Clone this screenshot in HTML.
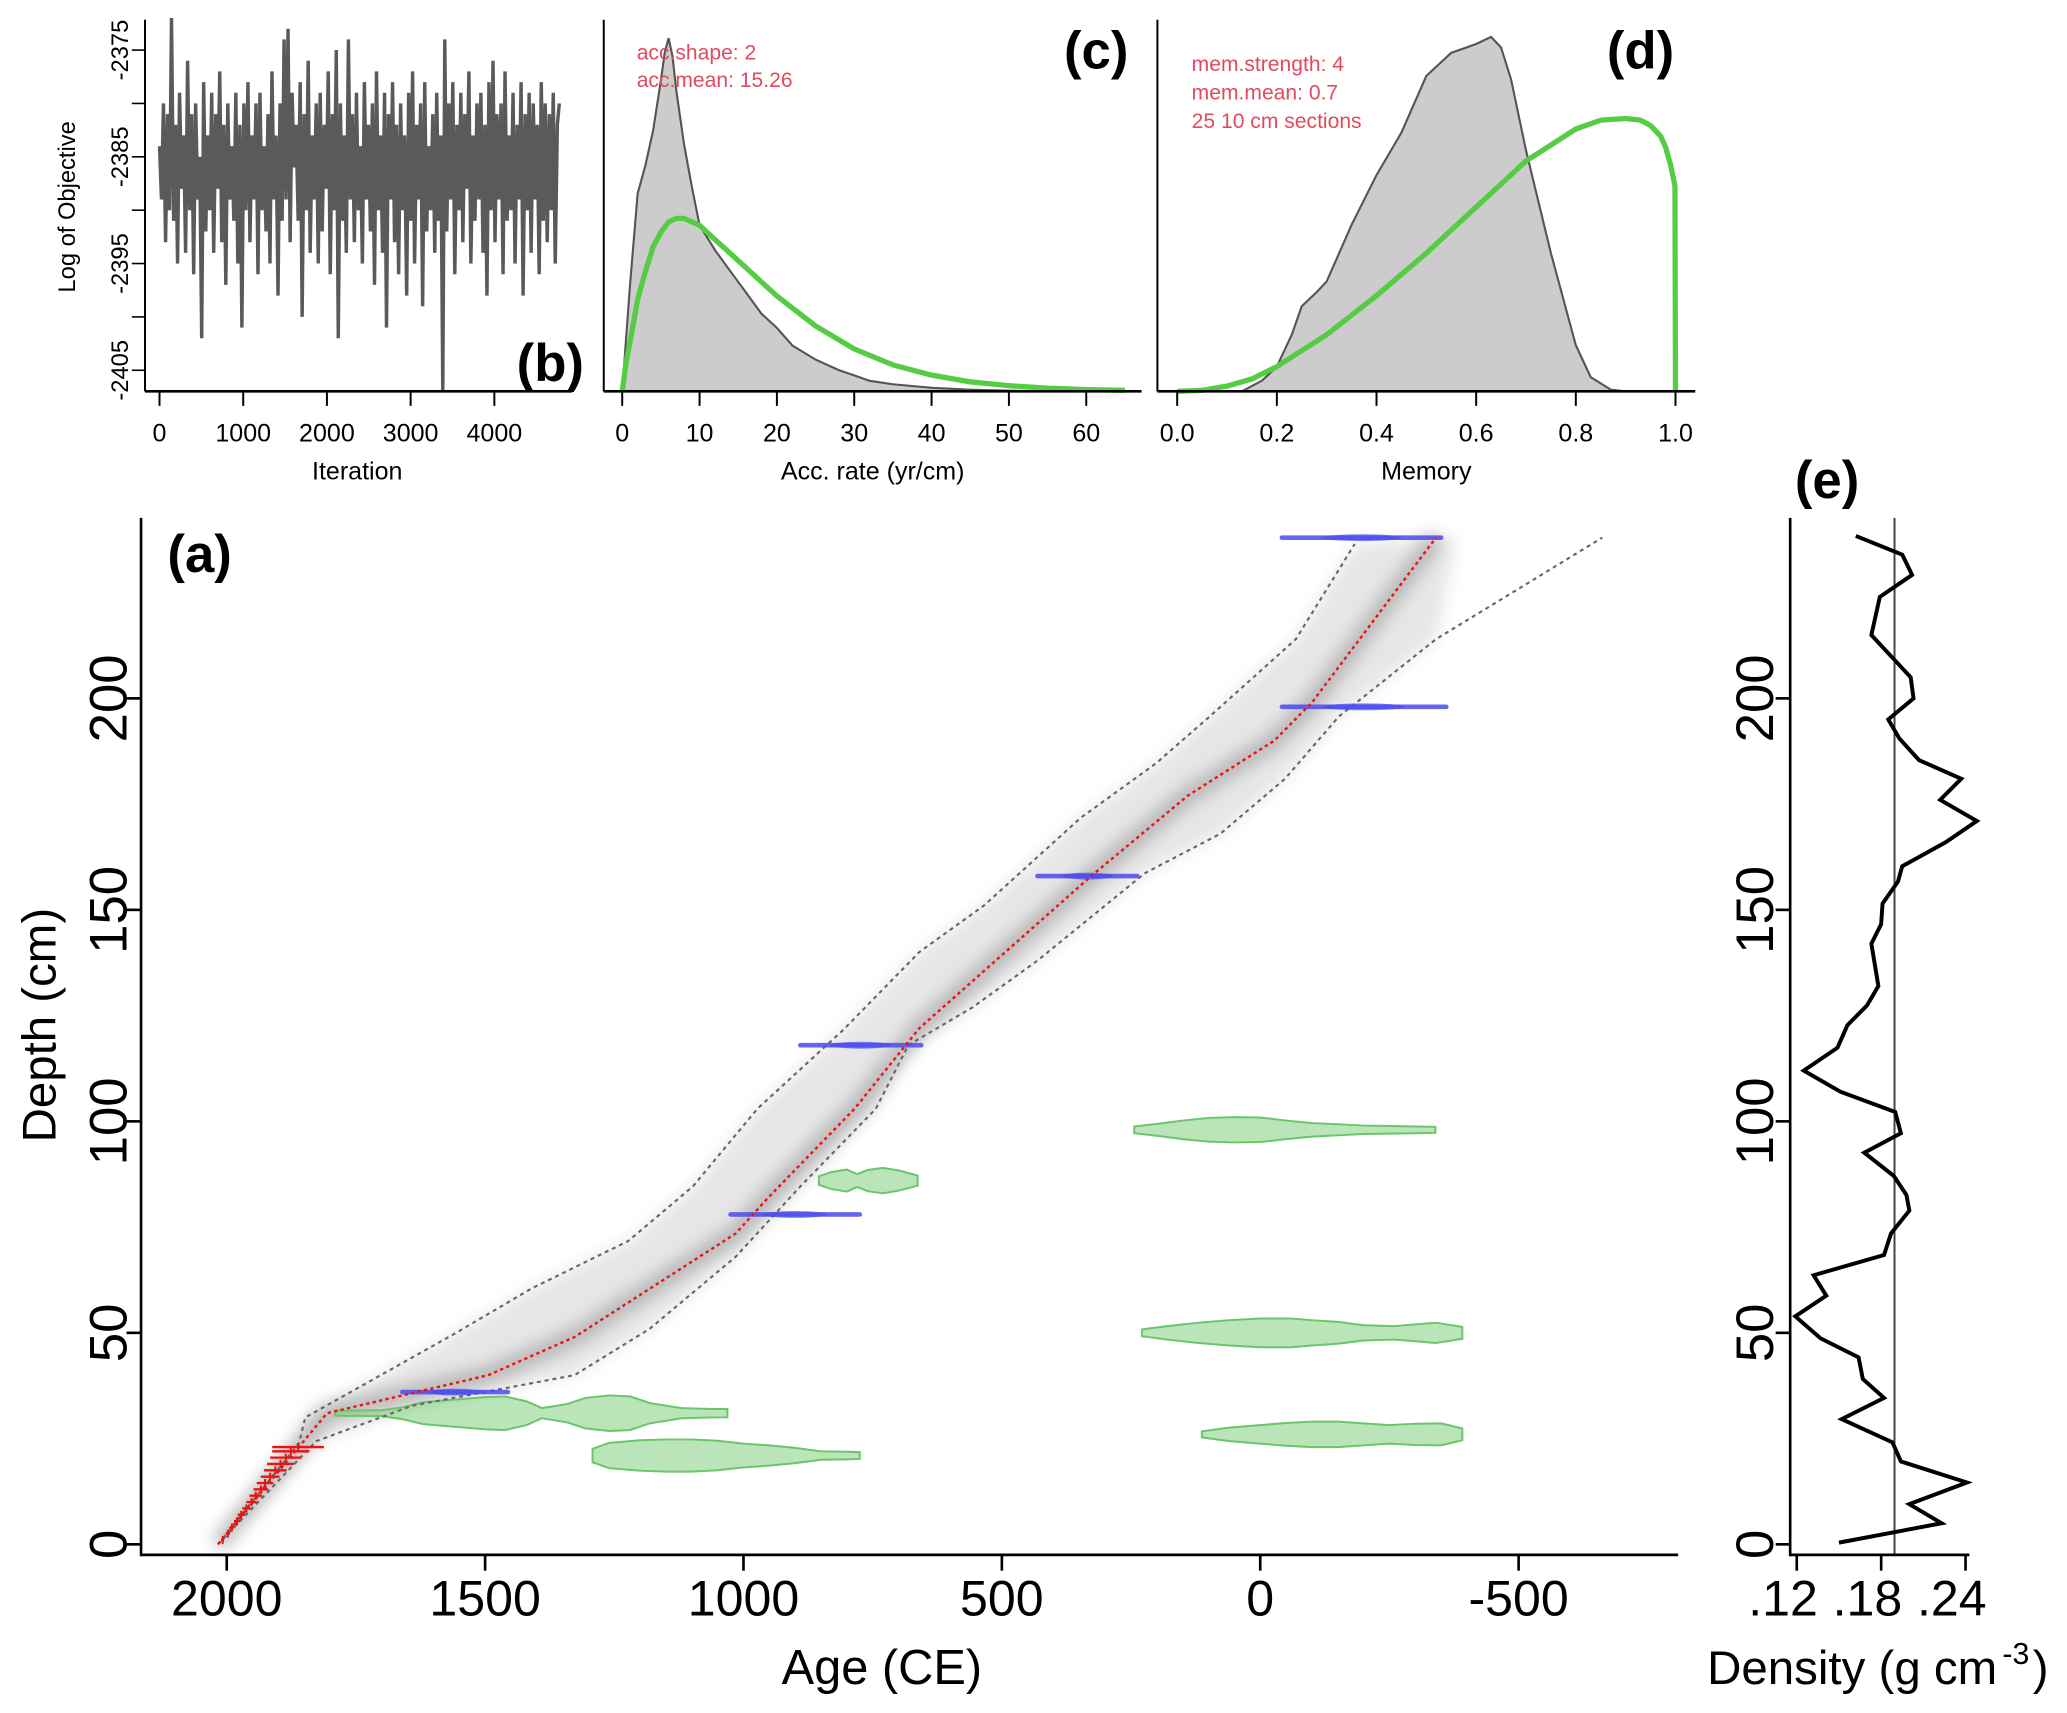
<!DOCTYPE html>
<html><head><meta charset="utf-8"><style>
html,body{margin:0;padding:0;background:#fff}
svg{display:block;font-family:"Liberation Sans",Arial,sans-serif}
</style></head><body>
<svg id="fig" xmlns="http://www.w3.org/2000/svg" width="2067" height="1713" viewBox="0 0 1568 1300" preserveAspectRatio="none">
<defs>
<filter id="blur6" x="-20%" y="-20%" width="140%" height="140%"><feGaussianBlur stdDeviation="6"/></filter>
<filter id="blur3" x="-20%" y="-20%" width="140%" height="140%"><feGaussianBlur stdDeviation="3"/></filter>
</defs>
<g id="gB"></g>
<g id="gC"></g>
<g id="gD"></g>
<g id="gA"></g>
<g id="gE"></g>
</svg>
<script>
// ---------- Panel b data ----------
const iterStep = 24;
const logObj = [
-2384,-2389,-2380,-2393,-2381,-2390,-2372,-2391,-2382,-2395,-2379,-2388,-2383,-2394,-2376,-2390,-2381,-2396,-2380,-2389,
-2385,-2402,-2378,-2392,-2383,-2390,-2379,-2394,-2381,-2388,-2377,-2393,-2382,-2397,-2380,-2389,-2384,-2391,-2379,-2395,
-2382,-2401,-2380,-2390,-2378,-2393,-2383,-2389,-2380,-2396,-2379,-2390,-2384,-2392,-2381,-2395,-2377,-2389,-2383,-2398,
-2380,-2391,-2374,-2389,-2373,-2393,-2379,-2386,-2382,-2391,-2378,-2400,-2381,-2390,-2376,-2394,-2383,-2389,-2380,-2395,
-2379,-2392,-2382,-2388,-2377,-2396,-2381,-2390,-2375,-2402,-2380,-2391,-2383,-2394,-2374,-2389,-2381,-2393,-2379,-2390,
-2384,-2395,-2378,-2389,-2382,-2392,-2380,-2397,-2377,-2390,-2383,-2394,-2379,-2401,-2381,-2389,-2378,-2393,-2382,-2396,
-2380,-2390,-2383,-2398,-2379,-2391,-2377,-2395,-2382,-2389,-2380,-2399,-2378,-2392,-2384,-2390,-2381,-2394,-2379,-2391,
-2383,-2407,-2374,-2392,-2380,-2389,-2378,-2396,-2382,-2390,-2379,-2393,-2381,-2388,-2377,-2395,-2383,-2391,-2380,-2389,
-2379,-2394,-2382,-2398,-2378,-2390,-2376,-2393,-2381,-2389,-2380,-2396,-2377,-2391,-2383,-2390,-2379,-2395,-2382,-2389,
-2378,-2398,-2381,-2390,-2379,-2394,-2380,-2389,-2382,-2396,-2378,-2391,-2380,-2393,-2381,-2390,-2379,-2395,-2382,-2380];
const bXTicks = [0,1000,2000,3000,4000];
const bYTicks = [-2375,-2380,-2385,-2390,-2395,-2400,-2405];
const bYLabels = [-2375,-2385,-2395,-2405];
// ---------- Panel c data ----------
const accX = [0,1,2,3,4,5,5.5,6,6.5,7,8,9,10,12,14,16,18,20,22,25,28,30,32,35,40,45,50,55];
const accPost = [0,0.3,0.56,0.64,0.74,0.88,0.96,1.0,0.95,0.85,0.7,0.58,0.47,0.4,0.34,0.28,0.22,0.18,0.13,0.09,0.06,0.045,0.03,0.02,0.01,0.005,0.002,0];
const accPriorX = [0,0.5,1,2,3,4,5,6,7,8,9,10,12,15,20,25,30,35,40,45,50,55,60,65];
const accPrior = [0,0.08,0.14,0.26,0.34,0.41,0.45,0.48,0.49,0.49,0.48,0.47,0.43,0.37,0.27,0.185,0.12,0.075,0.046,0.027,0.016,0.009,0.005,0.003];
const cXTicks = [0,10,20,30,40,50,60];
// ---------- Panel d data ----------
const memX = [0,0.13,0.17,0.2,0.23,0.25,0.28,0.3,0.35,0.4,0.45,0.5,0.55,0.6,0.63,0.65,0.67,0.7,0.75,0.8,0.83,0.87,0.9,1.0];
const memPost = [0,0,0.03,0.07,0.16,0.24,0.28,0.31,0.47,0.61,0.73,0.89,0.955,0.98,1.0,0.97,0.88,0.68,0.39,0.13,0.04,0.005,0,0];
const memPriorX = [0,0.05,0.1,0.15,0.2,0.3,0.4,0.5,0.6,0.7,0.8,0.85,0.9,0.93,0.95,0.97,0.98,0.99,0.999,1.0];
const memPrior = [0,0.003,0.015,0.035,0.07,0.16,0.27,0.39,0.52,0.65,0.74,0.765,0.77,0.765,0.75,0.72,0.69,0.64,0.58,0];
const dXTicks = [0,0.2,0.4,0.6,0.8,1.0];
// ---------- Panel a data ----------
const meanDepth = [0,31,40,49,73.5,82,103,122,158,177,190,199,238];
const meanAge = [2017,1806,1494,1327,1015,952,785,660,327,140,-27,-100,-340];
const loDepth = [0,24,30,40,50,60.5,71.7,84.6,103,121.7,140,151,171.7,184.6,195.7,214,236.5];
const loAge = [2017,1860,1848,1702,1556,1410,1223,1098,973,806,660,535,348,202,98,-69,-183];
const hiDepth = [0,24.4,32.8,40,51,68,84.6,103,118,127,138,158.7,168,181,195.7,214,238];
const hiAge = [2017,1827,1640,1327,1181,1015,890,744,681,556,431,223,77,-48,-152,-340,-662];
const dateDepth = [36,78,118,158,198,238];
const dateOld = [1660,1025,890,431,-42,-42];
const dateYoung = [1456,775,656,238,-360,-350];
const leadDepth = [1,2.5,4,5.5,7,8.5,10,11.5,13,14.5,16,17.5,19,20.5,22,23];
const leadAge = [2008,1998,1990,1980,1972,1962,1952,1944,1934,1926,1916,1906,1896,1886,1876,1862];
const leadErr = [3,4,5,6,7,8,10,12,14,16,18,22,26,30,36,50];
const calDepth = [98,86,50,31,26,21];
const calAges = [
 [244,200,150,100,50,0,-50,-100,-150,-200,-250,-300,-339],
 [854,830,800,780,760,730,700,663],
 [229,180,120,60,0,-60,-100,-150,-200,-260,-300,-340,-391],
 [1790,1700,1660,1620,1560,1500,1462,1420,1390,1370,1340,1306,1260,1220,1181,1120,1060,1031],
 [113,60,0,-50,-100,-150,-200,-250,-300,-350,-391],
 [1292,1260,1200,1150,1100,1050,1000,950,900,850,800,775]];
const calHalf = [
 [0.8,1.4,2.2,2.8,3.0,2.9,2.2,1.6,1.3,1.0,0.9,0.8,0.7],
 [1.0,2.0,2.6,1.5,2.5,3.0,2.4,1.2],
 [0.8,1.6,2.4,3.0,3.4,3.4,3.0,2.6,1.8,1.6,2.0,2.4,1.4],
 [0.6,0.7,1.4,2.6,3.2,3.8,4.0,2.8,1.2,1.6,2.2,3.6,4.2,4.0,2.4,1.2,1.0,1.0],
 [0.7,1.6,2.2,2.7,3.0,3.0,2.6,2.2,2.5,2.6,1.4],
 [1.6,3.0,3.6,3.8,3.8,3.5,2.8,2.4,1.8,1.0,0.9,0.8]];
const aXTicks = [2000,1500,1000,500,0,-500];
const aXLabels = ["2000","1500","1000","500","0","-500"];
const aYTicks = [0,50,100,150,200];
// ---------- Panel e data ----------
const densDepth = [0.4,5,9.5,14.6,19.6,24.1,29.6,34.6,39.1,44.2,48.7,53.9,58.8,63.6,68.4,73.5,78.9,82.6,87.1,92.6,97.2,102.2,107,112,117.4,122.7,127.4,132,142,146.6,151.5,156.7,160.3,166,171,176,181,185.4,190.5,195,200,205,215,224,229.2,234,238.4];
const densVal = [.150,.223,.200,.241,.194,.188,.152,.182,.167,.164,.137,.119,.141,.132,.182,.187,.200,.198,.189,.168,.194,.190,.151,.125,.149,.156,.170,.178,.173,.180,.181,.192,.195,.226,.248,.222,.237,.207,.193,.185,.203,.201,.173,.179,.202,.195,.162];
const densMean = 0.1895;
const eXTicks = [0.12,0.18,0.24];
const eXLabels = [".12",".18",".24"];

const NS="http://www.w3.org/2000/svg";
function mk(parent,tag,attrs,text){const e=document.createElementNS(NS,tag);for(const k in attrs)e.setAttribute(k,attrs[k]);if(text!==undefined)e.textContent=text;parent.appendChild(e);return e;}
function pts(xs,ys,fx,fy){return xs.map((x,i)=>fx(x).toFixed(1)+","+fy(ys[i]).toFixed(1)).join(" ");}

// ===== Panel b =====
const gB=document.getElementById('gB');
const bX=v=>121+v*0.0635, bY=v=>38+(-2375-v)*8.1;
let el;
el=mk(gB,'polyline',{points:logObj.map((v,i)=>bX(i*iterStep).toFixed(1)+","+bY(v).toFixed(1)).join(" "),fill:'none',stroke:'#5a5a5a','stroke-width':2.6,'stroke-linejoin':'bevel'});


el=mk(gB,'line',{x1:110,y1:297,x2:434,y2:297,stroke:'#000','stroke-width':2});


el=mk(gB,'line',{x1:110,y1:15,x2:110,y2:297,stroke:'#000','stroke-width':1.5});


bXTicks.forEach(t=>{mk(gB,'line',{x1:bX(t),y1:297,x2:bX(t),y2:308,stroke:'#000','stroke-width':1.5});
 el=mk(gB,'text',{x:bX(t),y:335,'font-size':19,'text-anchor':'middle'},String(t));
 
 });
bYTicks.forEach(t=>{mk(gB,'line',{x1:100,y1:bY(t),x2:110,y2:bY(t),stroke:'#000','stroke-width':1.2});});
bYLabels.forEach(t=>{el=mk(gB,'text',{x:0,y:0,'font-size':18,'text-anchor':'middle',transform:`translate(97,${bY(t)}) rotate(-90)`},String(t));
 
 });
el=mk(gB,'text',{x:0,y:0,'font-size':18,'text-anchor':'middle',transform:'translate(57,157) rotate(-90)'},'Log of Objective');


el=mk(gB,'text',{x:271,y:364,'font-size':19,'text-anchor':'middle'},'Iteration');


el=mk(gB,'text',{x:443,y:289,'font-size':40,'font-weight':'bold','text-anchor':'end'},'(b)');



// ===== Panel c =====
const gC=document.getElementById('gC');
const cX=v=>472+v*5.867, cY=v=>297-v*268;
el=mk(gC,'polygon',{points:pts(accX,accPost,cX,cY),fill:'#cccccc',stroke:'#555','stroke-width':1.6});


el=mk(gC,'polyline',{points:pts(accPriorX,accPrior,cX,cY),fill:'none',stroke:'#55cc44','stroke-width':4,'stroke-linejoin':'round'});


mk(gC,'line',{x1:458,y1:297,x2:866,y2:297,stroke:'#000','stroke-width':2});
mk(gC,'line',{x1:458,y1:15,x2:458,y2:297,stroke:'#000','stroke-width':1.5});
cXTicks.forEach(t=>{mk(gC,'line',{x1:cX(t),y1:297,x2:cX(t),y2:308,stroke:'#000','stroke-width':1.5});
 el=mk(gC,'text',{x:cX(t),y:335,'font-size':19,'text-anchor':'middle'},String(t));
 
 });
el=mk(gC,'text',{x:662,y:364,'font-size':19,'text-anchor':'middle'},'Acc. rate (yr/cm)');


el=mk(gC,'text',{x:483,y:45,'font-size':16,fill:'#e04a5c'},'acc.shape:  2');


el=mk(gC,'text',{x:483,y:66,'font-size':16,fill:'#e04a5c'},'acc.mean:  15.26');


el=mk(gC,'text',{x:856,y:52,'font-size':40,'font-weight':'bold','text-anchor':'end'},'(c)');



// ===== Panel d =====
const gD=document.getElementById('gD');
const dX=v=>893+v*378, dY=v=>297-v*269;
el=mk(gD,'polygon',{points:pts(memX,memPost,dX,dY),fill:'#cccccc',stroke:'#555','stroke-width':1.6});


el=mk(gD,'polyline',{points:pts(memPriorX,memPrior,dX,dY),fill:'none',stroke:'#55cc44','stroke-width':4,'stroke-linejoin':'round'});


mk(gD,'line',{x1:878,y1:297,x2:1286,y2:297,stroke:'#000','stroke-width':2});
mk(gD,'line',{x1:878,y1:15,x2:878,y2:297,stroke:'#000','stroke-width':1.5});
dXTicks.forEach(t=>{mk(gD,'line',{x1:dX(t),y1:297,x2:dX(t),y2:308,stroke:'#000','stroke-width':1.5});
 el=mk(gD,'text',{x:dX(t),y:335,'font-size':19,'text-anchor':'middle'},t.toFixed(1));
 
 });
el=mk(gD,'text',{x:1082,y:364,'font-size':19,'text-anchor':'middle'},'Memory');


['mem.strength: 4','mem.mean: 0.7','25 10 cm sections'].forEach((s,i)=>{
 el=mk(gD,'text',{x:904,y:54+i*21.5,'font-size':16,fill:'#e04a5c'},s);
 
 });
el=mk(gD,'text',{x:1270,y:52,'font-size':40,'font-weight':'bold','text-anchor':'end'},'(d)');



// ===== Panel a =====
const gA=document.getElementById('gA');
const aX=a=>172+(2000-a)*0.392, aY=d=>1172-d*3.21;
const bandPts = loAge.map((a,i)=>aX(a).toFixed(1)+","+aY(loDepth[i]).toFixed(1)).concat(
  hiAge.slice().reverse().map((a,j)=>{const i=hiAge.length-1-j;const aa=Math.max(a,-380);return aX(aa).toFixed(1)+","+aY(hiDepth[i]).toFixed(1);}));
el=mk(gA,'polygon',{points:bandPts.join(" "),fill:'#e6e6e6',filter:'url(#blur6)'});


el=mk(gA,'polyline',{points:pts(meanAge,meanDepth,aX,aY),fill:'none',stroke:'#9a9a9a','stroke-width':12,opacity:0.7,filter:'url(#blur6)'});


calDepth.forEach((d,k)=>{
 const top=calAges[k].map((a,i)=>aX(a).toFixed(1)+","+aY(d+calHalf[k][i]).toFixed(1));
 const bot=calAges[k].map((a,i)=>aX(a).toFixed(1)+","+aY(d-calHalf[k][i]).toFixed(1)).reverse();
 el=mk(gA,'polygon',{points:top.concat(bot).join(" "),fill:'#7fcf7f','fill-opacity':0.55,stroke:'#6cc46c','stroke-width':1.5});
 
 
});
el=mk(gA,'polyline',{points:pts(loAge,loDepth,aX,aY),fill:'none',stroke:'#666','stroke-width':1.6,'stroke-dasharray':'3,3'});


el=mk(gA,'polyline',{points:pts(hiAge,hiDepth,aX,aY),fill:'none',stroke:'#666','stroke-width':1.6,'stroke-dasharray':'3,3'});


dateDepth.forEach((d,i)=>{
 el=mk(gA,'line',{x1:aX(dateOld[i]),y1:aY(d),x2:aX(dateYoung[i]),y2:aY(d),stroke:'#4b4bf0','stroke-width':3.5,'stroke-linecap':'round',opacity:0.85});
 
 
 const mid=(dateOld[i]+dateYoung[i])/2, w=Math.abs(aX(dateOld[i])-aX(dateYoung[i]));
 mk(gA,'ellipse',{cx:aX(mid),cy:aY(d),rx:w*0.25,ry:2.6,fill:'#4b4bf0',opacity:0.7});
});
leadDepth.forEach((d,i)=>{
 el=mk(gA,'line',{x1:aX(leadAge[i]+leadErr[i]),y1:aY(d),x2:aX(leadAge[i]-leadErr[i]),y2:aY(d),stroke:'#ee1111','stroke-width':1.8});
 
 
 mk(gA,'line',{x1:aX(leadAge[i]),y1:aY(d)-3,x2:aX(leadAge[i]),y2:aY(d)+3,stroke:'#ee1111','stroke-width':1.5});
});
el=mk(gA,'polyline',{points:pts(meanAge,meanDepth,aX,aY),fill:'none',stroke:'#ee1111','stroke-width':1.8,'stroke-dasharray':'2.5,2.5'});


el=mk(gA,'line',{x1:107,y1:393,x2:107,y2:1181,stroke:'#000','stroke-width':2});


el=mk(gA,'line',{x1:107,y1:1180,x2:1273,y2:1180,stroke:'#000','stroke-width':2});


aXTicks.forEach((t,i)=>{mk(gA,'line',{x1:aX(t),y1:1180,x2:aX(t),y2:1192,stroke:'#000','stroke-width':2});
 el=mk(gA,'text',{x:aX(t),y:1226,'font-size':38,'text-anchor':'middle'},aXLabels[i]);
 
 });
aYTicks.forEach(t=>{mk(gA,'line',{x1:96,y1:aY(t),x2:107,y2:aY(t),stroke:'#000','stroke-width':2});
 el=mk(gA,'text',{x:0,y:0,'font-size':40,'text-anchor':'middle',transform:`translate(96,${aY(t)}) rotate(-90)`},String(t));
 
 });
el=mk(gA,'text',{x:669,y:1278,'font-size':37,'text-anchor':'middle'},'Age (CE)');


el=mk(gA,'text',{x:0,y:0,'font-size':36,'text-anchor':'middle',transform:'translate(42,778) rotate(-90)'},'Depth (cm)');


el=mk(gA,'text',{x:127,y:434,'font-size':40,'font-weight':'bold'},'(a)');



// ===== Panel e =====
const gE=document.getElementById('gE');
const eX=v=>1363+(v-0.12)*1067;
el=mk(gE,'line',{x1:eX(densMean),y1:393,x2:eX(densMean),y2:1180,stroke:'#444','stroke-width':1.5});


el=mk(gE,'polyline',{points:pts(densVal,densDepth,eX,aY),fill:'none',stroke:'#000','stroke-width':3,'stroke-linejoin':'miter'});


el=mk(gE,'line',{x1:1358,y1:393,x2:1358,y2:1181,stroke:'#000','stroke-width':2});


el=mk(gE,'line',{x1:1358,y1:1180,x2:1494,y2:1180,stroke:'#000','stroke-width':2});


eXTicks.forEach((t,i)=>{mk(gE,'line',{x1:eX(t),y1:1180,x2:eX(t),y2:1192,stroke:'#000','stroke-width':2});
 el=mk(gE,'text',{x:eX(t)+16,y:1226,'font-size':38,'text-anchor':'end'},eXLabels[i]);
 
 });
aYTicks.forEach(t=>{mk(gE,'line',{x1:1347,y1:aY(t),x2:1358,y2:aY(t),stroke:'#000','stroke-width':2});
 el=mk(gE,'text',{x:0,y:0,'font-size':40,'text-anchor':'middle',transform:`translate(1345,${aY(t)}) rotate(-90)`},String(t));
 
 });
el=mk(gE,'text',{x:1295,y:1278,'font-size':36},'Density (g cm');


el=mk(gE,'text',{x:1519,y:1263,'font-size':23},'-3');


el=mk(gE,'text',{x:1542,y:1278,'font-size':36},')');


el=mk(gE,'text',{x:1386,y:378,'font-size':40,'font-weight':'bold','text-anchor':'middle'},'(e)');


</script>
</body></html>
